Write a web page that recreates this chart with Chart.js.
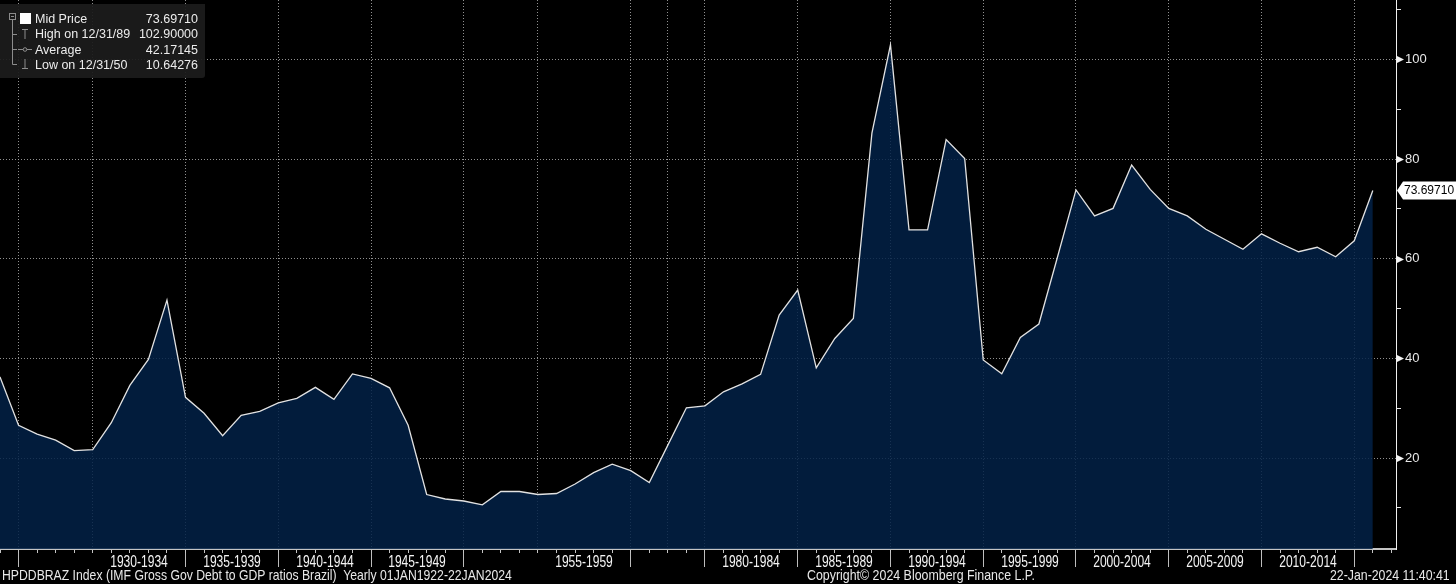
<!DOCTYPE html>
<html>
<head>
<meta charset="utf-8">
<title>HPDDBRAZ Index</title>
<script src="https://cdn.jsdelivr.net/npm/chart.js@4.4.1/dist/chart.umd.min.js"></script>
<style>
  html, body { margin: 0; padding: 0; background: #000; }
  #wrap { position: relative; width: 1456px; height: 584px; overflow: hidden; background: #000; }
  canvas { display: block; }
  #legend {
    position: absolute; left: 0; top: 4px; width: 205px; height: 74px;
    background: rgba(28, 28, 28, 0.93); border-radius: 0 0 3px 0;
    font: 12.5px 'Liberation Sans', Arial, sans-serif; color: #ececec;
  }
  #legend svg { position: absolute; left: 0; top: -4px; }
  #legend .row {
    position: absolute; left: 35px; width: 163px; height: 15px; line-height: 15px;
    display: flex; justify-content: space-between; white-space: nowrap;
  }
  .foot, .xlab {
    position: absolute; white-space: pre; line-height: 14px;
    font: 15px 'Liberation Sans', Arial, sans-serif; color: #e8e8e8;
  }
  .foot { top: 566px; }
  .xlab { top: 553px; font-size: 16px; color: #f4f4f4; transform-origin: 50% 50%; }
</style>
</head>
<body>
<div id="wrap">
  <canvas id="chart" width="1456" height="584"></canvas>
  <div id="legend">
    <svg width="36" height="78">
      <g stroke="#8c8c8c" stroke-width="1" fill="none">
        <rect x="9.5" y="13.5" width="6" height="6"/>
        <line x1="11" y1="16.5" x2="14" y2="16.5"/>
        <line x1="12.5" y1="20" x2="12.5" y2="64.5"/>
        <line x1="12.5" y1="34.5" x2="17" y2="34.5"/>
        <line x1="12.5" y1="49.5" x2="17" y2="49.5"/>
        <line x1="12.5" y1="64.5" x2="17" y2="64.5"/>
        <line x1="22" y1="29.5" x2="28" y2="29.5"/>
        <line x1="25" y1="29.5" x2="25" y2="39"/>
        <line x1="18" y1="49.5" x2="32" y2="49.5"/>
        <line x1="25" y1="59" x2="25" y2="68.5"/>
        <line x1="22" y1="68.5" x2="28" y2="68.5"/>
      </g>
      <circle cx="25" cy="49.5" r="1.8" fill="#1c1c1c" stroke="#8c8c8c"/>
      <rect x="20" y="13" width="11" height="11" fill="#ffffff"/>
    </svg>
    <div class="row" style="top:8px"><span>Mid Price</span><span id="lgMid"></span></div>
    <div class="row" style="top:23px"><span id="lgHighName"></span><span id="lgHigh"></span></div>
    <div class="row" style="top:38.5px"><span>Average</span><span id="lgAvg"></span></div>
    <div class="row" style="top:53.5px"><span id="lgLowName"></span><span id="lgLow"></span></div>
  </div>
  <div class="foot" data-w="510" style="left:2px">HPDDBRAZ Index (IMF Gross Gov Debt to GDP ratios Brazil)  Yearly 01JAN1922-22JAN2024</div>
  <div class="foot" data-w="228" style="left:807px">Copyright© 2024 Bloomberg Finance L.P.</div>
  <div class="foot" data-w="120" data-anchor="right" style="right:6px">22-Jan-2024 11:40:41</div>
</div>
<script>
// --- Dados (IMF Gross Gov Debt to GDP, Brazil, % do PIB) ---
const years = [
  1922,
  1925, 1926, 1927, 1928, 1929, 1930, 1931, 1932, 1933, 1934,
  1935, 1936, 1937, 1938, 1939, 1940, 1941, 1942, 1943, 1944,
  1945, 1946, 1947, 1948, 1949, 1950, 1951, 1952, 1954,
  1955, 1956, 1957, 1958, 1959, 1965, 1970, 1975, 1979,
  1980, 1981, 1982, 1983, 1984, 1985, 1986, 1987, 1988, 1989,
  1990, 1991, 1992, 1993, 1994, 1995, 1996, 1997, 1998, 1999,
  2000, 2001, 2002, 2003, 2004, 2005, 2006, 2007, 2008, 2009,
  2010, 2011, 2012, 2013, 2014, 2015
];

const debtRatio = [
  36.3, 26.6, 24.8, 23.6, 21.5, 21.7, 27.1, 34.6, 39.8, 51.7,
  32.2, 29.0, 24.5, 28.6, 29.4, 31.1, 32.0, 34.2, 31.8, 36.9,
  36.0, 34.1, 26.6, 12.7, 11.8, 11.4, 10.64276, 13.3, 13.3, 12.7,
  12.9, 14.8, 17.1, 18.8, 17.5, 15.1, 22.6, 30.1, 30.5, 33.3,
  34.9, 36.8, 48.7, 53.7, 38.1, 44.0, 48.0, 85.2, 102.9, 65.8,
  65.8, 83.9, 80.1, 39.7, 36.9, 44.2, 46.9, 60.3, 73.8, 68.6,
  70.1, 78.8, 73.9, 70.1, 68.6, 65.9, 63.9, 61.9, 65.0, 63.1,
  61.4, 62.3, 60.4, 63.6, 73.6971
];

// média informada pelo terminal (série completa)
const reportedAverage = 42.17145;

// rótulos de período do eixo X e anos que os delimitam
const periodLabels = [
  "1930-1934", "1935-1939", "1940-1944", "1945-1949", "1955-1959",
  "1980-1984", "1985-1989", "1990-1994", "1995-1999", "2000-2004",
  "2005-2009", "2010-2014"
];
const gridYears = [1925, 1929, 1934, 1939, 1944, 1949, 1954, 1959, 1970, 1979,
  1984, 1989, 1994, 1999, 2004, 2009, 2014];
const separatorYears = [1925, 1934, 1939, 1944, 1949, 1959, 1979,
  1984, 1989, 1994, 1999, 2004, 2009, 2014];

// eixo Y
const yTickValues = [10, 20, 30, 40, 50, 60, 70, 80, 90, 100, 110];
const yLabelValues = [20, 40, 60, 80, 100];

// --- Funções auxiliares ---
const GRID_GRAY = "rgba(170, 170, 170, 0.85)";
const LABEL_WIDTH = 58; // largura de "1930-1934" no terminal

const idxOf = (y) => years.indexOf(y);
const gridIdx = gridYears.map(idxOf);
const sepIdx = separatorYears.map(idxOf);

const labelCenters = periodLabels.map(lbl => {
  const [start, end] = lbl.split("-").map(Number);
  const before = years.filter(y => y < start).length - 1;
  return { value: (before + idxOf(end)) / 2, label: lbl };
});

const points = debtRatio.map((v, i) => ({ x: i, y: v }));
const xMax = debtRatio.length + 0.25;
const xTickValues = Array.from({ length: debtRatio.length + 1 }, (_, i) => i);

// legenda
const last = debtRatio[debtRatio.length - 1];
const hi = Math.max(...debtRatio);
const lo = Math.min(...debtRatio);
const shortDate = (y) => "12/31/" + String(y).slice(2);
document.getElementById("lgMid").textContent = last.toFixed(5);
document.getElementById("lgHighName").textContent = "High on " + shortDate(years[debtRatio.indexOf(hi)]);
document.getElementById("lgHigh").textContent = hi.toFixed(5);
document.getElementById("lgAvg").textContent = reportedAverage.toFixed(5);
document.getElementById("lgLowName").textContent = "Low on " + shortDate(years[debtRatio.indexOf(lo)]);
document.getElementById("lgLow").textContent = lo.toFixed(5);

// rodapé em fonte estreita
document.querySelectorAll(".foot").forEach(el => {
  const k = Number(el.dataset.w) / el.offsetWidth;
  el.style.transformOrigin = el.dataset.anchor === "right" ? "100% 50%" : "0 50%";
  el.style.transform = `scaleX(${k})`;
});

// rótulos de período (texto real, posicionado pela escala X)
const wrap = document.getElementById("wrap");
const periodEls = labelCenters.map(c => {
  const el = document.createElement("div");
  el.className = "xlab";
  el.textContent = c.label;
  wrap.appendChild(el);
  return el;
});
const labelScale = LABEL_WIDTH / periodEls[0].offsetWidth;

const periodLabelsPlugin = {
  id: "periodLabels",
  afterDraw(chart) {
    const sx = chart.scales.xLab;
    labelCenters.forEach((c, i) => {
      const el = periodEls[i];
      el.style.left = sx.getPixelForValue(c.value) + "px";
      el.style.transform = `translateX(-50%) scaleX(${labelScale})`;
    });
  }
};

// marcadores do eixo Y (triângulos) e etiqueta do último valor
const axisMarkers = {
  id: "axisMarkers",
  afterDraw(chart) {
    const { ctx, chartArea } = chart;
    const y = chart.scales.y;
    const x0 = chartArea.right;
    ctx.save();
    ctx.fillStyle = "#f2f2f2";
    yLabelValues.forEach(v => {
      const py = Math.round(y.getPixelForValue(v)) + 0.5;
      ctx.beginPath();
      ctx.moveTo(x0, py - 4);
      ctx.lineTo(x0 + 8, py);
      ctx.lineTo(x0, py + 4);
      ctx.closePath();
      ctx.fill();
    });
    const py = y.getPixelForValue(last);
    ctx.fillStyle = "#ffffff";
    ctx.beginPath();
    ctx.moveTo(x0 + 1, py);
    ctx.lineTo(x0 + 7, py - 9);
    ctx.lineTo(chart.width, py - 9);
    ctx.lineTo(chart.width, py + 9);
    ctx.lineTo(x0 + 7, py + 9);
    ctx.closePath();
    ctx.fill();
    ctx.fillStyle = "#000";
    ctx.font = "12px 'Liberation Sans', Arial, sans-serif";
    ctx.textBaseline = "middle";
    ctx.fillText(last.toFixed(5), x0 + 8, py + 0.5);
    ctx.restore();
  }
};

const ctx = document.getElementById("chart").getContext("2d");
new Chart(ctx, {
  type: "line",
  data: {
    datasets: [{
      data: points,
      borderColor: "#e2e2e2",
      borderWidth: 1.3,
      backgroundColor: "rgba(2, 33, 70, 0.85)",
      fill: "start",
      pointRadius: 0,
      tension: 0
    }]
  },
  options: {
    responsive: false,
    animation: false,
    layout: { padding: 0, autoPadding: false },
    plugins: { legend: { display: false }, tooltip: { enabled: false } },
    scales: {
      x: {
        type: "linear", position: "bottom", weight: 0, min: 0, max: xMax,
        afterBuildTicks: s => { s.ticks = xTickValues.map(v => ({ value: v })); },
        ticks: { display: false },
        grid: {
          drawOnChartArea: true,
          color: c => (c.tick && gridIdx.includes(c.tick.value)) ? GRID_GRAY : "transparent",
          lineWidth: 1, drawTicks: true, tickLength: 4, tickWidth: 1, tickColor: "#c4c4c4"
        },
        border: { display: true, color: "#c4c4c4", width: 2, dash: [1, 2] },
        afterFit: s => { s.height = 4; s.paddingLeft = 0; s.paddingRight = 0; }
      },
      xLab: {
        type: "linear", position: "bottom", weight: 1, min: 0, max: xMax,
        afterBuildTicks: s => { s.ticks = sepIdx.map(v => ({ value: v })); },
        ticks: { display: false },
        grid: {
          drawOnChartArea: false, drawTicks: true, tickLength: 14, tickWidth: 1,
          tickColor: "#bdbdbd"
        },
        border: { display: false },
        afterFit: s => { s.height = 31; s.paddingLeft = 0; s.paddingRight = 0; }
      },
      y: {
        type: "linear", position: "right", min: 1.77, max: 111.9,
        afterBuildTicks: s => { s.ticks = yTickValues.map(v => ({ value: v })); },
        ticks: {
          autoSkip: false, padding: 4, color: "#e8e8e8",
          font: { family: "'Liberation Sans', Arial, sans-serif", size: 13 },
          callback: v => yLabelValues.includes(v) ? String(v) : ""
        },
        grid: {
          color: c => (c.tick && yLabelValues.includes(c.tick.value)) ? GRID_GRAY : "transparent",
          lineWidth: 1, drawTicks: true, tickLength: 5, tickWidth: 1, tickColor: "#e8e8e8"
        },
        border: { display: true, color: "#f0f0f0", width: 1, dash: [1, 2] },
        afterFit: s => { s.width = 60; s.paddingTop = 0; s.paddingBottom = 0; }
      }
    }
  },
  plugins: [axisMarkers, periodLabelsPlugin]
});
</script>
</body>
</html>
